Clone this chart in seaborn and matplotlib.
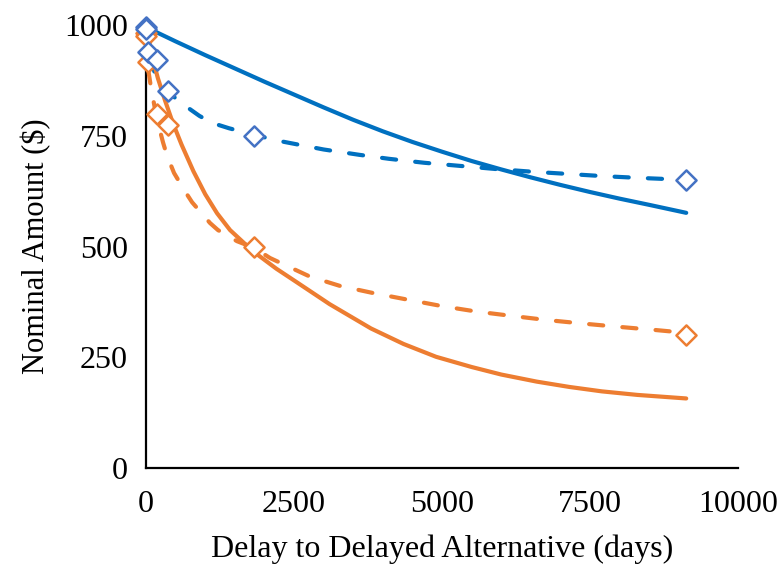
import matplotlib
matplotlib.use("Agg")
import matplotlib.pyplot as plt
import seaborn as sns

# ---- observed data (diamonds) ----
delays = [1, 7, 30, 180, 365, 1825, 9125]
blue_obs = [995, 990, 940, 920, 850, 750, 650]
orange_obs = [982, 975, 917, 800, 775, 500, 300]

# ---- fitted curves ----
blue_solid_x = [0, 500, 1000, 1500, 2000, 2500, 3000, 3500, 4000, 4500, 5000,
                5500, 6000, 6500, 7000, 7500, 8000, 8500, 9125]
blue_solid_y = [995, 963, 932, 902, 872, 843, 814, 786, 760, 736, 714,
                693, 674, 656, 639, 623, 608, 594, 576]

blue_dash_x = [0, 30, 100, 150, 270, 365, 575, 710, 900, 1115, 1400, 1825, 2300,
               3000, 3600, 4100, 4700, 5300, 5900, 6500, 7100, 7700, 8300, 8850, 9125]
blue_dash_y = [1000, 950, 915, 890, 865, 850, 826, 813, 795, 779, 767, 752, 737,
               719, 707, 698, 689, 682, 675, 669, 664, 659, 655, 652, 650]

orange_solid_x = [0, 100, 200, 320, 450, 600, 800, 1000, 1200, 1420, 1800, 2200,
                  2550, 3100, 3800, 4350, 4900, 5500, 6000, 6600, 7150, 7700, 8300, 9125]
orange_solid_y = [1000, 930, 880, 830, 780, 730, 670, 618, 575, 537, 490, 450,
                  419, 370, 315, 280, 251, 228, 211, 195, 183, 173, 165, 157]

orange_dash_x = [0, 30, 85, 180, 287, 355, 473, 642, 777, 1081, 1216, 1537, 1825,
                 2095, 2770, 3277, 3834, 4459, 5017, 5591, 6200, 6774, 7382, 7956, 8565, 9125]
orange_dash_y = [975, 905, 858, 790, 735, 705, 666, 628, 600, 553, 537, 512, 497,
                 474, 432, 411, 395, 379, 365, 353, 343, 334, 326, 319, 312, 305]

x_ticks = [0, 2500, 5000, 7500, 10000]
y_ticks = [0, 250, 500, 750, 1000]
x_label = "Delay to Delayed Alternative (days)"
y_label = "Nominal Amount ($)"

BLUE_LINE = "#0070C0"
BLUE_MARK = "#4472C4"
ORANGE = "#ED7D31"

sns.set_theme(style="white")
plt.rcParams["font.family"] = ["Liberation Serif", "DejaVu Serif"]

fig = plt.figure(figsize=(7.78, 5.72), dpi=100)
ax = fig.add_axes([0.1877, 0.1818, 0.7609, 0.7745])

lw = 3.0
dash = (0, (3.4, 4.6))

sns.lineplot(x=blue_solid_x, y=blue_solid_y, ax=ax, color=BLUE_LINE, linewidth=lw,
             solid_capstyle="round", solid_joinstyle="round", zorder=3)
sns.lineplot(x=blue_dash_x, y=blue_dash_y, ax=ax, color=BLUE_LINE, linewidth=lw,
             linestyle=dash, dash_capstyle="round", zorder=3)
sns.lineplot(x=orange_solid_x, y=orange_solid_y, ax=ax, color=ORANGE, linewidth=lw,
             solid_capstyle="round", solid_joinstyle="round", zorder=3)
sns.lineplot(x=orange_dash_x, y=orange_dash_y, ax=ax, color=ORANGE, linewidth=lw,
             linestyle=dash, dash_capstyle="round", zorder=3)

sns.scatterplot(x=delays, y=orange_obs, ax=ax, marker="D", s=105, facecolor="white",
                edgecolor=ORANGE, linewidth=1.8, zorder=5, clip_on=False)
sns.scatterplot(x=delays, y=blue_obs, ax=ax, marker="D", s=105, facecolor="white",
                edgecolor=BLUE_MARK, linewidth=1.8, zorder=6, clip_on=False)

ax.set_xlim(0, 10000)
ax.set_ylim(0, 1000)
ax.set_xticks(x_ticks)
ax.set_yticks(y_ticks)
ax.set_xticklabels([str(t) for t in x_ticks])
ax.set_yticklabels([str(t) for t in y_ticks])
ax.tick_params(axis="both", length=0, labelsize=23, colors="black")
ax.tick_params(axis="x", pad=16)
ax.tick_params(axis="y", pad=13)
ax.set_xlabel(x_label, fontsize=23, color="black", labelpad=11)
ax.set_ylabel(y_label, fontsize=22, color="black", labelpad=9)

for s in ["top", "right"]:
    ax.spines[s].set_visible(False)
for s in ["left", "bottom"]:
    ax.spines[s].set_color("black")
    ax.spines[s].set_linewidth(1.6)
    ax.spines[s].set_zorder(2)
ax.grid(False)

fig.savefig("out.png", dpi=100, facecolor="white")
